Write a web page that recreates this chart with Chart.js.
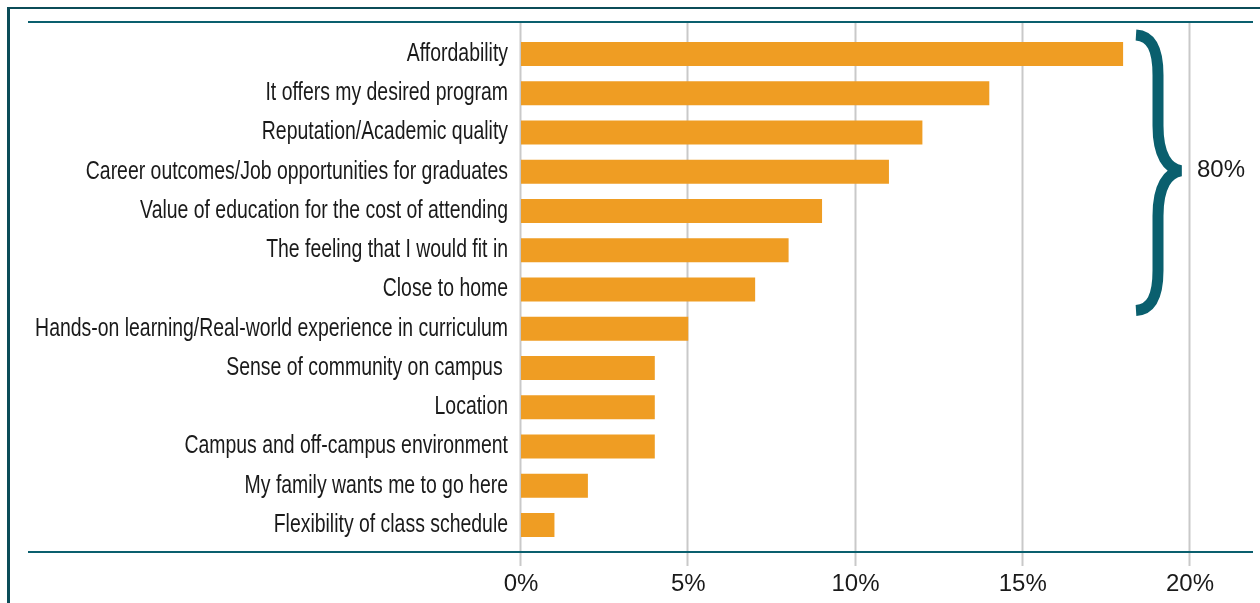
<!DOCTYPE html>
<html>
<head>
<meta charset="utf-8">
<script src="https://cdn.jsdelivr.net/npm/chart.js@4"></script>
<style>
  body { margin: 0; background: #ffffff; }
  canvas { display: block; }
</style>
</head>
<body>
<canvas id="grafico" width="1260" height="603"></canvas>
<script>
// categorias e valores (% dos respondentes)
const categorias = [
    'Affordability',
    'It offers my desired program',
    'Reputation/Academic quality',
    'Career outcomes/Job opportunities for graduates',
    'Value of education for the cost of attending',
    'The feeling that I would fit in',
    'Close to home',
    'Hands-on learning/Real-world experience in curriculum',
    'Sense of community on campus ',
    'Location',
    'Campus and off-campus environment',
    'My family wants me to go here',
    'Flexibility of class schedule'
];
const valores = [18, 14, 12, 11, 9, 8, 7, 5, 4, 4, 4, 2, 1];
const ticksX = [0, 5, 10, 15, 20];
const chaveInicio = 0;   // primeira categoria dentro da chave
const chaveFim = 6;      // ultima categoria dentro da chave
const chaveTexto = '80%';

const TEAL = '#0a5f6e';
const MOLDURA = '#0b4c58';
const LARANJA = '#ef9d23';
const TEXTO = '#1a1a1a';

// desenha moldura, linhas de grade e regras horizontais por baixo das barras
const fundoPlugin = {
    id: 'fundo',
    beforeDatasetsDraw(chart) {
        const ctx = chart.ctx;
        const x = chart.scales.x;
        const y = chart.scales.y;
        ctx.save();
        // moldura externa
        ctx.fillStyle = MOLDURA;
        ctx.fillRect(7, 7, 3, 603);
        ctx.fillRect(7, 7, 1260, 2);
        // linhas de grade verticais
        ctx.strokeStyle = '#c9c9c9';
        ctx.lineWidth = 2;
        ticksX.forEach(function (v) {
            const px = Math.round(x.getPixelForValue(v)) - 0.5;
            ctx.beginPath();
            ctx.moveTo(px, 23);
            ctx.lineTo(px, 566);
            ctx.stroke();
        });
        // regras horizontais
        ctx.fillStyle = TEAL;
        ctx.fillRect(28, 21, 1225, 2);
        ctx.fillRect(28, 551, 1225, 2);
        // rotulos das categorias (fonte estreita simulada)
        const estreito = 0.777;
        ctx.fillStyle = TEXTO;
        ctx.font = '25px "Liberation Sans", Arial, sans-serif';
        ctx.textAlign = 'right';
        ctx.textBaseline = 'middle';
        categorias.forEach(function (c, i) {
            const py = y.getPixelForValue(i);
            ctx.save();
            ctx.translate(508, py);
            ctx.scale(estreito, 1);
            ctx.fillText(c, 0, 0);
            ctx.restore();
        });
        ctx.restore();
    },
    afterDatasetsDraw(chart) {
        const ctx = chart.ctx;
        const y = chart.scales.y;
        const yt = y.getPixelForValue(chaveInicio) - 19;
        const yb = y.getPixelForValue(chaveFim) + 21;
        const ym = (yt + yb) / 2 - 2;
        const xs = 1158, x0 = 1136, xp = 1185;
        ctx.save();
        ctx.strokeStyle = TEAL;
        ctx.lineWidth = 11;
        ctx.lineJoin = 'miter';
        ctx.miterLimit = 2;
        ctx.beginPath();
        ctx.moveTo(x0, yt);
        ctx.bezierCurveTo(x0 + 16, yt + 1, xs, yt + 15, xs, yt + 40);
        ctx.lineTo(xs, ym - 45);
        ctx.bezierCurveTo(xs, ym - 15, xs + 10, ym - 2, xp - 4, ym);
        ctx.bezierCurveTo(xs + 10, ym + 2, xs, ym + 15, xs, ym + 45);
        ctx.lineTo(xs, yb - 40);
        ctx.bezierCurveTo(xs, yb - 15, x0 + 16, yb - 1, x0, yb);
        ctx.stroke();
        ctx.fillStyle = TEXTO;
        ctx.font = '24px "Liberation Sans", Arial, sans-serif';
        ctx.textAlign = 'left';
        ctx.textBaseline = 'middle';
        ctx.fillText(chaveTexto, 1197, ym);
        ctx.restore();
    }
};

function configurarGrafico() {
    const ctx = document.getElementById('grafico').getContext('2d');
    new Chart(ctx, {
        type: 'bar',
        data: {
            labels: categorias,
            datasets: [{
                data: valores,
                backgroundColor: LARANJA,
                borderWidth: 0,
                barPercentage: 0.61,
                categoryPercentage: 1.0
            }]
        },
        options: {
            indexAxis: 'y',
            responsive: false,
            animation: false,
            layout: { padding: { top: 34.4, right: 70, left: 0, bottom: 0 } },
            plugins: {
                legend: { display: false },
                tooltip: { enabled: false }
            },
            scales: {
                x: {
                    min: 0,
                    max: 20,
                    afterFit(scale) { scale.height = 58.4; },
                    grid: { display: false, drawTicks: false },
                    border: { display: false },
                    ticks: {
                        stepSize: 5,
                        padding: 25,
                        color: TEXTO,
                        font: { family: '"Liberation Sans", Arial, sans-serif', size: 24 },
                        callback: function (v) { return v + '%'; }
                    }
                },
                y: {
                    afterFit(scale) { scale.width = 521; },
                    grid: { display: false, drawTicks: false },
                    border: { display: false },
                    ticks: { display: false }
                }
            }
        },
        plugins: [fundoPlugin]
    });
}

window.onload = function () {
    configurarGrafico();
};
</script>
</body>
</html>
